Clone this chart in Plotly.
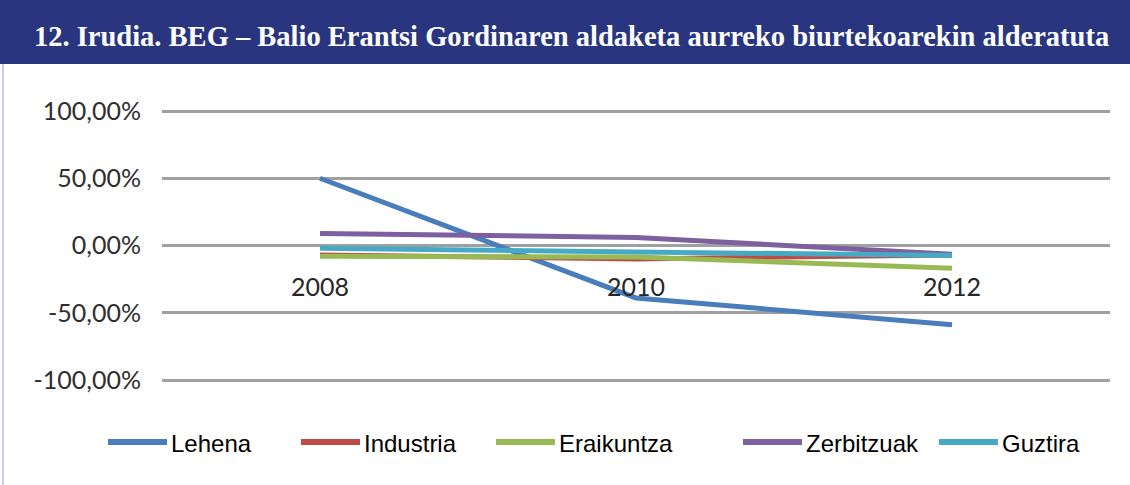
import plotly.graph_objects as go

years = ["2008", "2010", "2012"]
series_names = ["Lehena", "Industria", "Eraikuntza", "Zerbitzuak", "Guztira"]
lehena = [0.50, -0.39, -0.59]
industria = [-0.07, -0.10, -0.07]
eraikuntza = [-0.08, -0.085, -0.17]
zerbitzuak = [0.09, 0.06, -0.065]
guztira = [-0.02, -0.045, -0.075]
colors = ["#4a7ebb", "#be4b48", "#98b954", "#7d60a0", "#46aac5"]
y_tickvals = [1.0, 0.5, 0.0, -0.5, -1.0]
y_ticktext = ["100,00%", "50,00%", "0,00%", "-50,00%", "-100,00%"]
title_text = "12. Irudia. BEG \u2013 Balio Erantsi Gordinaren aldaketa aurreko biurtekoarekin alderatuta"

W, H = 1130, 485
ML, MR, MT, MB = 162, 20, 108, 102
PW, PH = W - ML - MR, H - MT - MB


def px(x):
    return (x - ML) / PW


def py(y):
    return (H - MB - y) / PH


values = [lehena, industria, eraikuntza, zerbitzuak, guztira]
fig = go.Figure()
for name, vals, col in zip(series_names, values, colors):
    fig.add_trace(go.Scatter(x=years, y=vals, name=name, mode="lines",
                             line=dict(color=col, width=5), showlegend=False))

shapes = [
    dict(type="rect", xref="paper", yref="paper", x0=px(0), x1=px(W), y0=py(64), y1=py(0),
         fillcolor="#29367f", line=dict(width=0), layer="below"),
    dict(type="line", xref="paper", yref="paper", x0=px(3), x1=px(3), y0=py(64), y1=py(H),
         line=dict(color="#9a9ae0", width=1)),
]
annotations = [
    dict(text=title_text, xref="paper", yref="paper", x=px(571), y=py(37), showarrow=False,
         xanchor="center", yanchor="middle",
         font=dict(family="Liberation Serif", size=28.5, color="white", weight="bold")),
]
leg_sym_x = [108, 301, 496, 743, 939]
for name, col, lx in zip(series_names, colors, leg_sym_x):
    shapes.append(dict(type="line", xref="paper", yref="paper", x0=px(lx), x1=px(lx + 59),
                       y0=py(442), y1=py(442), line=dict(color=col, width=6)))
    annotations.append(dict(text=name, xref="paper", yref="paper", x=px(lx + 61), y=py(443),
                            showarrow=False, xanchor="left", yanchor="middle",
                            font=dict(family="Liberation Sans", size=24,
                                      color="#000000")))

fig.update_layout(
    width=W, height=H,
    margin=dict(l=ML, r=MR, t=MT, b=MB),
    paper_bgcolor="white", plot_bgcolor="white",
    shapes=shapes, annotations=annotations,
    xaxis=dict(type="category", range=[-0.5, 2.5], showgrid=False, zeroline=False,
               showline=False, ticks="", anchor="free", position=0.5,
               ticklabelstandoff=24,
               tickfont=dict(family="Lato", size=25, color="#262626")),
    yaxis=dict(range=[-1.0223, 1.0223], tickvals=y_tickvals, ticktext=y_ticktext,
               showgrid=True, gridcolor="#a0a0a0", gridwidth=3, zeroline=False,
               showline=False, ticks="", ticklabelstandoff=20,
               tickfont=dict(family="Lato", size=25, color="#2e2e2e")),
)

fig.write_html("out.html", post_script="document.body.style.margin='0';",
               config={"displayModeBar": False})
